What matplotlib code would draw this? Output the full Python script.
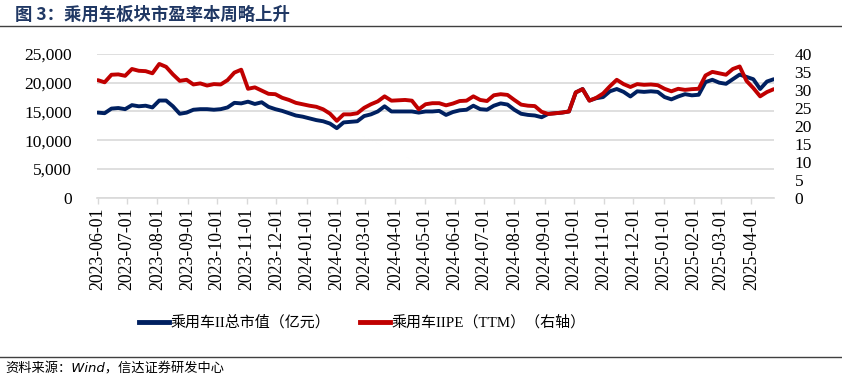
import pandas as pd
import matplotlib.pyplot as plt
import matplotlib.dates as mdates
from matplotlib.ticker import FuncFormatter, MultipleLocator
from matplotlib.lines import Line2D

# weekly sample dates
dates = pd.date_range("2023-06-01", periods=100, freq="7D")

# 乘用车II总市值（亿元）
market_cap = [
    14800, 14700, 15500, 15600, 15400, 16100, 15900, 16000, 15700, 16900,
    16900, 15900, 14600, 14800, 15300, 15400, 15400, 15300, 15400, 15700,
    16500, 16400, 16700, 16300, 16600, 15800, 15400, 15100, 14700, 14300,
    14100, 13800, 13500, 13300, 12900, 12100, 13100, 13200, 13300, 14200,
    14500, 15000, 15900, 15000, 15000, 15000, 15000, 14800, 15000, 15000,
    15100, 14400, 14900, 15200, 15300, 16000, 15400, 15300, 16000, 16400,
    16200, 15300, 14600, 14400, 14300, 14000, 14600, 14700, 14800, 15000,
    18300, 18900, 16900, 17300, 17500, 18500, 18900, 18400, 17600, 18500,
    18400, 18500, 18400, 17500, 17100, 17600, 18000, 17800, 17900, 20100,
    20500, 20000, 19800, 20600, 21400, 21000, 20600, 18900, 20200, 20600,
]

# 乘用车IIPE（TTM）
pe_ttm = [
    32.7, 32.1, 34.2, 34.3, 33.9, 35.8, 35.3, 35.2, 34.6, 37.2,
    36.4, 34.3, 32.5, 32.8, 31.5, 31.8, 31.2, 31.6, 31.5, 32.7,
    34.8, 35.6, 30.3, 30.7, 29.8, 28.9, 28.8, 27.8, 27.2, 26.4,
    26.0, 25.6, 25.3, 24.6, 23.4, 21.4, 23.2, 23.2, 23.5, 25.0,
    26.0, 26.8, 28.2, 27.0, 27.1, 27.2, 27.0, 24.6, 26.0, 26.3,
    26.3, 25.7, 26.2, 26.9, 27.0, 28.2, 27.2, 26.9, 28.5, 28.8,
    28.6, 27.2, 25.9, 25.6, 25.5, 23.9, 23.3, 23.5, 23.7, 24.0,
    29.3, 30.2, 27.0, 27.8, 29.0, 31.0, 32.8, 31.6, 30.8, 31.6,
    31.4, 31.5, 31.3, 30.3, 29.6, 30.3, 30.0, 30.2, 30.3, 34.0,
    35.0, 34.6, 34.2, 35.8, 36.5, 32.5, 30.5, 28.2, 29.4, 30.2,
]

blue = "#002060"
red = "#C00000"
serif = ["Liberation Serif", "Noto Sans CJK SC"]

plt.rcParams["font.family"] = serif

fig = plt.figure(figsize=(8.42, 3.82), dpi=100)
ax = fig.add_axes([0.115, 0.482, 0.804, 0.377])
ax2 = ax.twinx()

ax.plot(dates, market_cap, color=blue, lw=2.8, solid_capstyle="round", zorder=3)
ax2.plot(dates, pe_ttm, color=red, lw=2.8, solid_capstyle="round", zorder=3)

# axes ranges
ax.set_ylim(0, 25000)
ax2.set_ylim(0, 40)
ax.set_xlim(pd.Timestamp("2023-05-31"), pd.Timestamp("2025-04-24"))

ax.yaxis.set_major_locator(MultipleLocator(5000))
ax.yaxis.set_major_formatter(FuncFormatter(lambda v, p: f"{v:,.0f}"))
ax2.yaxis.set_major_locator(MultipleLocator(5))

ax.xaxis.set_major_locator(mdates.MonthLocator(bymonthday=1))
ax.xaxis.set_major_formatter(mdates.DateFormatter("%Y-%m-%d"))

ax.grid(axis="y", color="#d9d9d9", lw=1.2)
ax.set_axisbelow(True)

for a in (ax, ax2):
    for s in a.spines.values():
        s.set_visible(False)
ax.spines["bottom"].set_visible(True)
ax.spines["bottom"].set_color("#d9d9d9")
ax.spines["bottom"].set_linewidth(1.2)

ax.tick_params(axis="y", length=0, pad=18, labelsize=12.5, colors="black")
ax2.tick_params(axis="y", length=0, pad=15, labelsize=12.5, colors="black")
ax.tick_params(axis="x", length=4, width=1, color="#d9d9d9", pad=3,
               labelsize=12.8, labelrotation=90)

# legend
handles = [Line2D([], [], color=blue, lw=3.5),
           Line2D([], [], color=red, lw=3.5)]
labels = ["乘用车II总市值（亿元）", "乘用车IIPE（TTM）（右轴）"]
fig.legend(handles, labels, loc="center", bbox_to_anchor=(0.43, 0.155),
           ncol=2, frameon=False, fontsize=10.8, handlelength=2.0,
           handletextpad=0.1, columnspacing=2.0)

# title and source
fig.text(0.018, 0.962, "图 3：乘用车板块市盈率本周略上升", fontsize=12.5,
         fontweight="bold", color="#203864", va="center",
         family=["Noto Sans CJK SC", "DejaVu Sans"])
fig.add_artist(Line2D([0.0, 1.0], [0.932, 0.932], color="#404040", lw=1.0,
                      transform=fig.transFigure))
fig.add_artist(Line2D([0.0, 1.0], [0.066, 0.066], color="#404040", lw=1.0,
                      transform=fig.transFigure))
fig.text(0.006, 0.033, "资料来源：Wind，信达证券研发中心", fontsize=9.5,
         style="italic", va="center",
         family=["DejaVu Sans", "Noto Sans CJK SC"])

fig.savefig("out.png", dpi=100)
